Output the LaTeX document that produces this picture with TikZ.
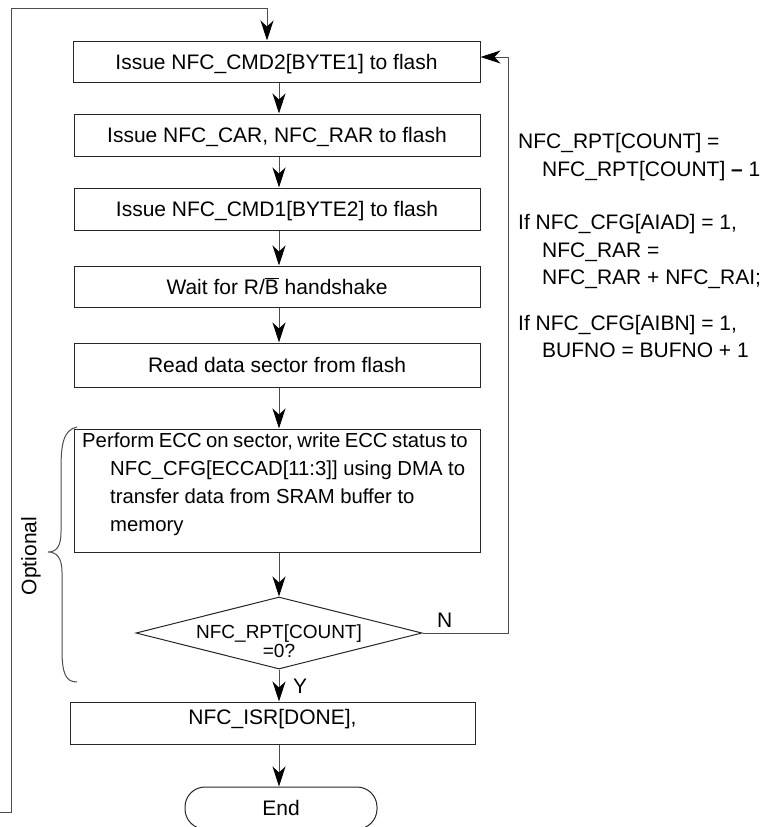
\documentclass[tikz,border=0pt]{standalone}
\usepackage{fontspec}
\setmainfont{Liberation Sans}
\usetikzlibrary{arrows.meta,shapes.geometric}
\tikzset{
  box/.style={draw=black!85, line width=1pt, rectangle, inner sep=0pt, text height=15pt, text depth=0pt, font=\fontsize{21}{25}\selectfont},
  conn/.style={draw=black!70, line width=1pt},
  arr/.style={conn, -{Stealth[length=20pt,width=13pt,inset=6pt,color=black]}},
  txt/.style={inner sep=0pt, anchor=base west, font=\fontsize{21}{25}\selectfont},
  ecctxt/.style={inner sep=0pt, anchor=base west, font=\fontsize{20.3}{25}\selectfont},
  dtxt/.style={inner sep=0pt, anchor=base, font=\fontsize{19}{22}\selectfont},
}
\begin{document}
\begin{tikzpicture}[x=1pt,y=-1pt]
\clip (0,0) rectangle (763,827);
\coordinate (ax) at (279,0);
\coordinate (c0) at (0,812);
\coordinate (c1) at (11,8);
\coordinate (c2) at (267,8);
\coordinate (rl) at (508,57);

\node[box, minimum width=407pt, minimum height=41pt] (b1) at (276.5,61.5) {Issue NFC\_CMD2[BYTE1] to flash};
\node[box, minimum width=406pt, minimum height=42pt] (b2) at (277,135) {Issue NFC\_CAR, NFC\_RAR to flash};
\node[box, minimum width=406pt, minimum height=42pt] (b3) at (277,209) {Issue NFC\_CMD1[BYTE2] to flash};
\node[box, minimum width=406pt, minimum height=41pt] (b4) at (277,286.5) {Wait for R/$\overline{\hbox{B}}$ handshake};
\node[box, minimum width=406pt, minimum height=44pt] (b5) at (277,365) {Read data sector from flash};
\node[box, minimum width=406pt, minimum height=123pt] (ecc) at (277,490.5) {};
\node[ecctxt] (e1) at (82,447) {{\spaceskip=0.22em Perform ECC on sector, write ECC status to}};
\node[ecctxt] (e2) at (110,475) {NFC\_CFG[ECCAD[11:3]] using DMA to};
\node[ecctxt] (e3) at (110,503) {transfer data from SRAM buffer to};
\node[ecctxt] (e4) at (110,531) {memory};

\node[draw=black!85, line width=1pt, diamond, minimum width=286pt, minimum height=72pt, inner sep=0pt] (d) at (279,633) {};
\node[dtxt] (dl1) at (279,638) {NFC\_RPT[COUNT]};
\node[dtxt] (dl2) at (279,657) {=0?};

\node[box, minimum width=405pt, minimum height=42pt, text depth=12pt] (isr) at (272.5,723) {NFC\_ISR[DONE],};
\node[box, rounded corners=20pt, minimum width=192pt, minimum height=42pt] (e) at (281,808) {End};

\draw[arr] (c0) -| (c1) -- (c2) -- (c2 |- b1.north);
\draw[arr] (b1.south -| ax) -- (b2.north -| ax);
\draw[arr] (b2.south -| ax) -- (b3.north -| ax);
\draw[arr] (b3.south -| ax) -- (b4.north -| ax);
\draw[arr] (b4.south -| ax) -- (b5.north -| ax);
\draw[arr] (b5.south -| ax) -- (ecc.north -| ax);
\draw[arr] (ecc.south -| ax) -- (d.north);
\draw[arr] (d.south) -- (isr.north -| ax);
\draw[arr] (isr.south -| ax) -- (e.north -| ax);
\draw[arr] (d.east) -| (rl) -- (rl -| b1.east);

\node[txt] (nl) at (437,627) {N};
\node[txt] (yl) at (293,693) {Y};

\draw[conn] (77,427) .. controls (63,430) and (61,445) .. (61,470) -- (61,532)
  .. controls (61,547) and (56,552) .. (48,552)
  .. controls (56,552) and (62,557) .. (62,572) -- (62,650)
  .. controls (62,674) and (66,682) .. (77,682);
\node[rotate=90, inner sep=0pt, font=\fontsize{21}{25}\selectfont] (opt) at (31,556) {Optional};

\node[txt] (r1) at (518,148) {NFC\_RPT[COUNT] =};
\node[txt] (r2) at (542,176) {NFC\_RPT[COUNT] \textbf{–} 1};
\node[txt] (r3) at (518,229) {If NFC\_CFG[AIAD] = 1,};
\node[txt] (r4) at (542,257) {NFC\_RAR =};
\node[txt] (r5) at (542,284) {NFC\_RAR + NFC\_RAI;};
\node[txt] (r6) at (518,330) {If NFC\_CFG[AIBN] = 1,};
\node[txt] (r7) at (542,357) {BUFNO = BUFNO + 1};
\end{tikzpicture}
\end{document}
